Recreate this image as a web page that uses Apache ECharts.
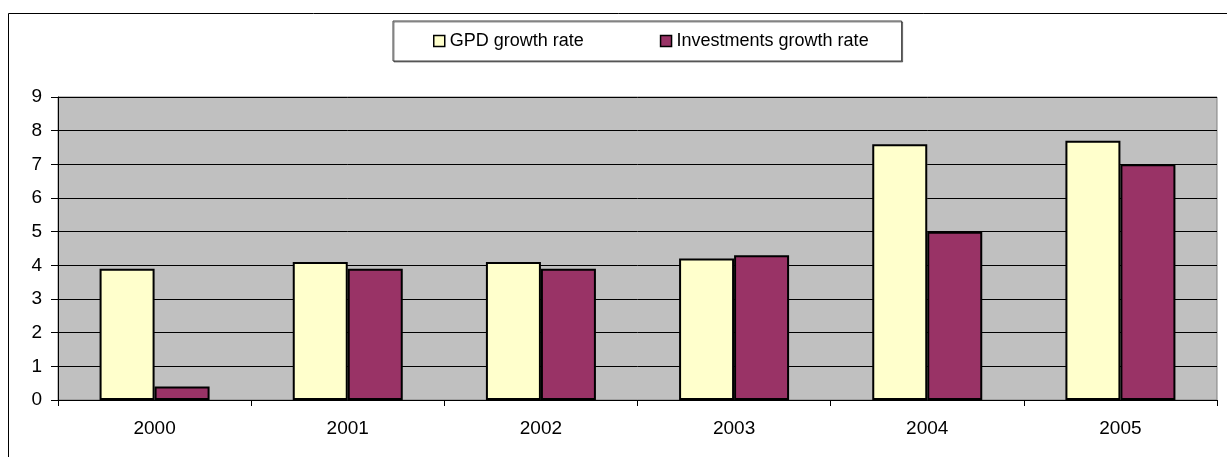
<!DOCTYPE html>
<html>
<head>
<meta charset="utf-8">
<style>
  html, body { margin: 0; padding: 0; background: #fff; }
  #chart { width: 1227px; height: 457px; }
</style>
<script src="https://cdn.jsdelivr.net/npm/echarts@6.0.0/dist/echarts.min.js"></script>
</head>
<body>
<div id="chart"></div>
<script>
const years = ['2000', '2001', '2002', '2003', '2004', '2005'];
const gdpGrowth = [3.9, 4.1, 4.1, 4.2, 7.6, 7.7];
const investGrowth = [0.4, 3.9, 3.9, 4.3, 5.0, 7.0];

const FONT = 'Liberation Sans, Arial, sans-serif';

const chart = echarts.init(document.getElementById('chart'), null, { renderer: 'canvas' });

const barSeries = (name, data, color) => ({
  name,
  type: 'bar',
  data,
  barWidth: 55,
  barGap: '0%',
  itemStyle: { color, borderColor: '#000', borderWidth: 2 },
  animation: false
});

chart.setOption({
  backgroundColor: '#fff',
  animation: false,
  graphic: [{
    type: 'rect',
    shape: { x: 8.5, y: 13.5, width: 1300, height: 500 },
    style: { fill: 'none', stroke: '#000', lineWidth: 1 },
    silent: true
  }],
  legend: {
    left: 393,
    top: 21,
    padding: [11, 33, 11, 40],
    itemGap: 76,
    itemWidth: 11,
    itemHeight: 11,
    icon: 'rect',
    itemStyle: { borderWidth: 1.5, borderColor: '#000' },
    backgroundColor: '#fff',
    borderColor: '#404040',
    borderWidth: 1,
    shadowColor: 'rgba(0,0,0,0.45)',
    shadowOffsetX: 1,
    shadowOffsetY: 1,
    shadowBlur: 0,
    textStyle: { fontFamily: FONT, fontSize: 18, color: '#000' }
  },
  grid: {
    left: 58,
    top: 97,
    right: 10,
    bottom: 57,
    show: true,
    backgroundColor: '#C0C0C0',
    borderColor: '#808080',
    borderWidth: 1
  },
  xAxis: {
    type: 'category',
    data: years,
    axisLine: { lineStyle: { color: '#000', width: 1 } },
    axisTick: { show: true, alignWithLabel: false, length: 6, lineStyle: { color: '#000' } },
    axisLabel: { fontFamily: FONT, fontSize: 19, color: '#000', margin: 19 },
    splitLine: { show: false }
  },
  yAxis: {
    type: 'value',
    min: 0,
    max: 9,
    interval: 1,
    axisLine: { show: true, lineStyle: { color: '#000', width: 1 } },
    axisTick: { show: true, length: 7, lineStyle: { color: '#000' } },
    axisLabel: { fontFamily: FONT, fontSize: 19, color: '#000', margin: 16 },
    splitLine: { show: true, lineStyle: { color: '#000', width: 1 } }
  },
  series: [
    barSeries('GPD growth rate', gdpGrowth, '#FFFFCC'),
    barSeries('Investments growth rate', investGrowth, '#993366')
  ]
});
</script>
</body>
</html>
